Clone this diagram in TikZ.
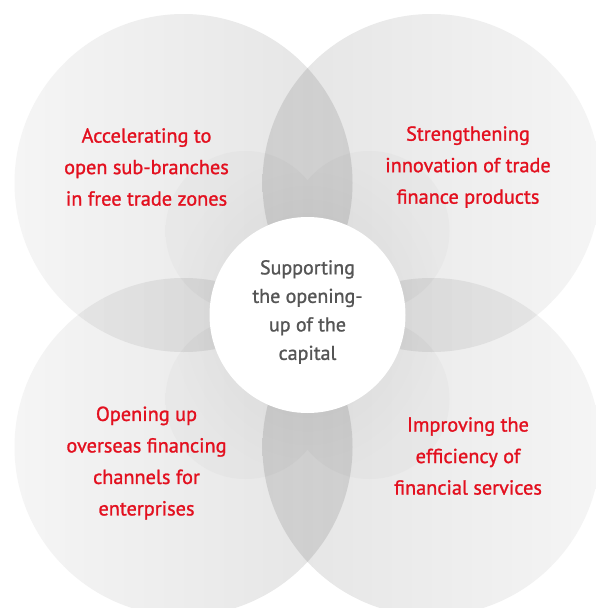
\documentclass[tikz,border=0pt]{standalone}
\usepackage{fontspec}
\setmainfont[FakeBold=1.2]{PT Sans}
\definecolor{bigout}{HTML}{F5F5F5}
\definecolor{bigin}{HTML}{E4E4E4}
\definecolor{smallout}{HTML}{FAFAFA}
\definecolor{smallin}{HTML}{EEEEEE}
\definecolor{redtxt}{HTML}{E3101F}
\definecolor{graytxt}{HTML}{555555}
\tikzset{
  redlabel/.style={text=redtxt, align=center, font=\fontsize{20.3}{31.5}\selectfont, inner sep=0pt},
  centerlabel/.style={text=graytxt, align=center, font=\fontsize{20}{28.5}\selectfont, inner sep=0pt},
}
\begin{document}
\begin{tikzpicture}[x=1pt,y=-1pt]
\useasboundingbox (0,0) rectangle (596,608);
\fill[white] (0,0) rectangle (596,608);
\begin{scope}[blend mode=multiply]
  % big circles
  \shade[left color=bigout, right color=bigin] (183.5,183) circle[radius=169];
  \shade[left color=bigin, right color=bigout] (431.5,183) circle[radius=169];
  \shade[left color=bigout, right color=bigin] (183.5,447) circle[radius=169];
  \shade[left color=bigin, right color=bigout] (431.5,447) circle[radius=169];
  % small circles, filled once as a union
  \shade[nonzero rule, inner color=smallin, outer color=smallout]
    (245.5,231) circle[radius=80] (369.5,231) circle[radius=80]
    (245.5,399) circle[radius=80] (369.5,399) circle[radius=80];
\end{scope}
\fill[white] (307.5,315) circle[radius=98];
\node[redlabel] (tl) at (146.5,167) {Accelerating to\\open sub-branches\\in free trade zones};
\node[redlabel] (tr) at (468,167) {Strengthening\\innovation of trade\\finance products};
\node[redlabel] (bl) at (146.5,463) {Opening up\\overseas financing\\channels for\\enterprises};
\node[redlabel] (br) at (468,456) {Improving the\\efficiency of\\financial services};
\node[centerlabel] (c) at (307.5,312) {Supporting\\the opening-\\up of the\\capital};
\end{tikzpicture}
\end{document}
